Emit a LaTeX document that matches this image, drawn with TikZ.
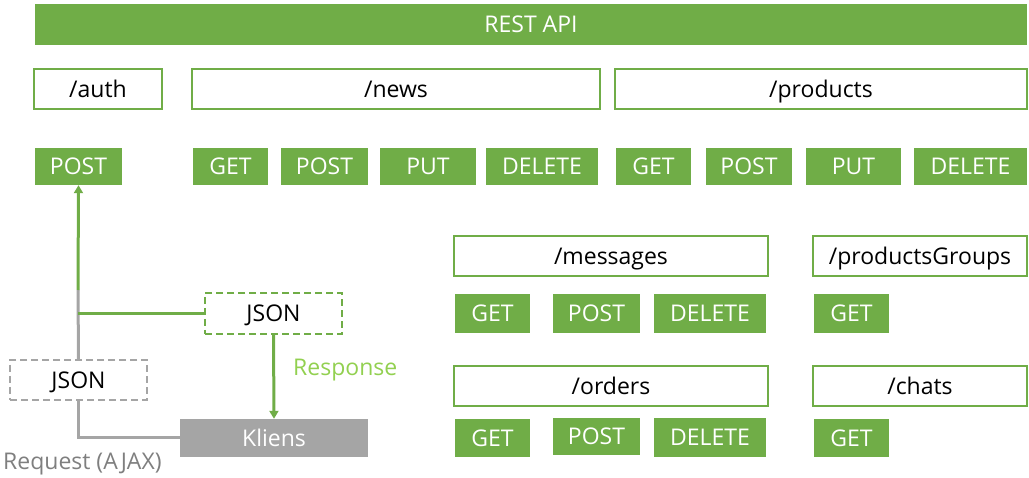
\documentclass[tikz,border=0pt]{standalone}
\usepackage{fontspec}
\setmainfont{Open Sans}
\usetikzlibrary{arrows.meta}
\definecolor{apigreen}{HTML}{70AD47}
\definecolor{apigray}{HTML}{A5A5A5}
\definecolor{resgreen}{HTML}{92D050}
\definecolor{reqgray}{HTML}{7F7F7F}
\tikzset{
  base/.style={rectangle, inner sep=0pt, text height=22pt, text depth=5pt, font=\fontsize{23}{27}\selectfont},
  methbox/.style={base, fill=apigreen, text=white},
  pathbox/.style={base, draw=apigreen, line width=1.3pt, fill=white, text=black},
  jsongreen/.style={base, draw=apigreen, line width=1.2pt, dash pattern=on 7pt off 4pt, fill=white, text=black},
  jsongray/.style={base, draw=apigray, line width=1.2pt, dash pattern=on 7pt off 4pt, fill=white, text=black},
  klbox/.style={base, fill=apigray, text=white},
  greenline/.style={draw=apigreen, line width=3pt},
  grayline/.style={draw=apigray, line width=3pt},
  tip/.style={-{Triangle[width=9pt,length=8pt]}},
}
\begin{document}
\begin{tikzpicture}[x=1pt,y=-1pt]
\useasboundingbox (0,0) rectangle (1029,478);
% top bar
\node[methbox, minimum width=992, minimum height=41] (rest) at (531,24.5) {REST API};
% path row
\node[pathbox, minimum width=128, minimum height=40] (auth) at (98,89) {/auth};
\node[pathbox, minimum width=408, minimum height=40] (news) at (396,89) {/news};
\node[pathbox, minimum width=412, minimum height=40] (products) at (821,89) {/products};
% method row
\node[methbox, minimum width=87, minimum height=37] (authpost) at (78.5,166.5) {POST};
\node[methbox, minimum width=75, minimum height=37] (nget) at (230.5,166.5) {GET};
\node[methbox, minimum width=87, minimum height=37] (npost) at (324.5,166.5) {POST};
\node[methbox, minimum width=96, minimum height=37] (nput) at (428,166.5) {PUT};
\node[methbox, minimum width=112, minimum height=37] (ndel) at (542,166.5) {DELETE};
\node[methbox, minimum width=75, minimum height=37] (pget) at (653.5,166.5) {GET};
\node[methbox, minimum width=86, minimum height=37] (ppost) at (749,166.5) {POST};
\node[methbox, minimum width=95, minimum height=37] (pput) at (853.5,166.5) {PUT};
\node[methbox, minimum width=113, minimum height=37] (pdel) at (970.5,166.5) {DELETE};
% messages / productsGroups
\node[pathbox, minimum width=314, minimum height=40] (messages) at (611,256) {/messages};
\node[methbox, minimum width=75, minimum height=39] (mget) at (492.5,313.5) {GET};
\node[methbox, minimum width=87, minimum height=39] (mpost) at (596.5,313.5) {POST};
\node[methbox, minimum width=112, minimum height=39] (mdel) at (710,313.5) {DELETE};
\node[pathbox, minimum width=214, minimum height=40] (pgroups) at (920,256) {/productsGroups};
\node[methbox, minimum width=75, minimum height=39] (pgget) at (851.5,313.5) {GET};
% orders / chats
\node[pathbox, minimum width=314, minimum height=40] (orders) at (611,386) {/orders};
\node[methbox, minimum width=75, minimum height=38] (oget) at (492.5,438) {GET};
\node[methbox, minimum width=87, minimum height=37] (opost) at (596.5,436.5) {POST};
\node[methbox, minimum width=112, minimum height=39] (odel) at (710,437.5) {DELETE};
\node[pathbox, minimum width=214, minimum height=40] (chats) at (920,386) {/chats};
\node[methbox, minimum width=75, minimum height=38] (cget) at (851.5,438) {GET};
% client side
\node[jsongreen, minimum width=137, minimum height=41] (jsont) at (273.5,313.5) {JSON};
\node[jsongray, minimum width=137, minimum height=40] (jsonb) at (78.5,380) {JSON};
\node[klbox, minimum width=188, minimum height=38] (kliens) at (274,438) {Kliens};
\node[base, anchor=west, text=resgreen] (resp) at (293,367) {Response};
\node[base, anchor=west, text=reqgray] (req) at (3,461) {Request (AJAX)};
\coordinate (split) at (78,290);
% connectors
\draw[grayline] (jsonb.south) |- (kliens.west);
\draw[grayline] (jsonb.north) -- (split);
\draw[greenline, tip] (split) -- (authpost.south);
\draw[greenline] (jsont.west) -- (jsont.west -| split);
\draw[greenline, tip] (jsont.south) -- (kliens.north);
\end{tikzpicture}
\end{document}
